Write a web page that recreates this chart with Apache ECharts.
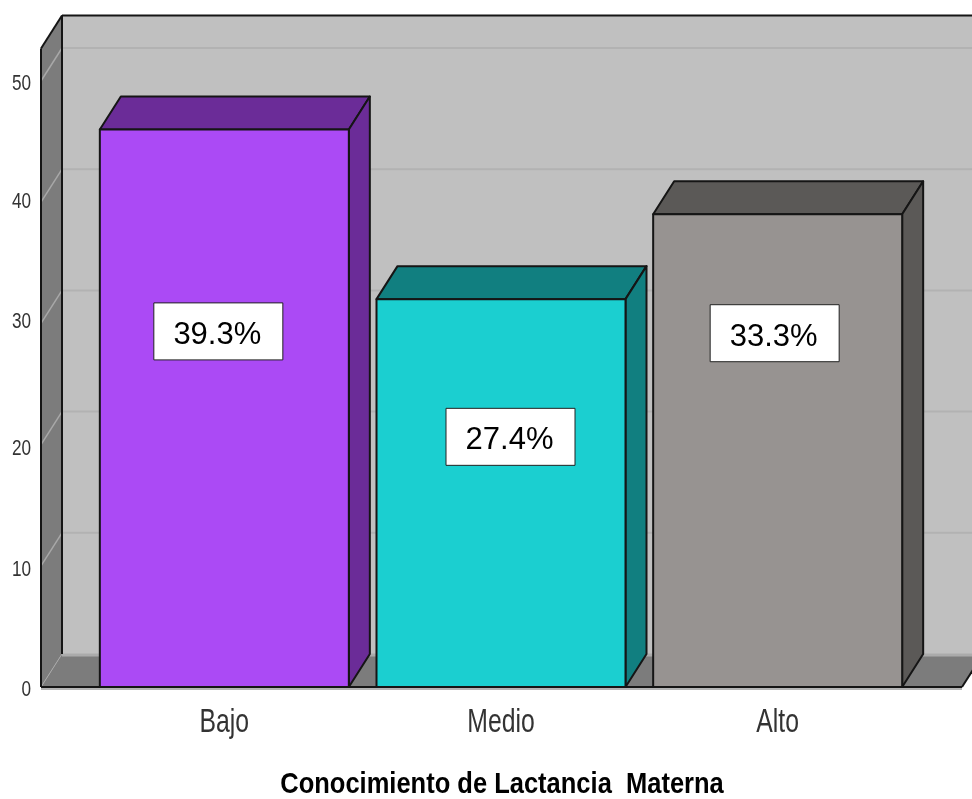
<!DOCTYPE html>
<html>
<head>
<meta charset="utf-8">
<style>html,body{margin:0;padding:0;background:#fff}#c{width:972px;height:799px}</style>
<script src="https://cdn.jsdelivr.net/npm/echarts@6/dist/echarts.min.js"></script>
</head>
<body>
<div id="c"></div>
<script>
const categories = ['Bajo', 'Medio', 'Alto'];
const counts = [46, 32, 39];
const percentLabels = ['39.3%', '27.4%', '33.3%'];
const faceColors = ['#AB4AF5', '#1BCFD0', '#979391'];
const sideColors = ['#6B2C98', '#117F80', '#5B5957'];
const yTicks = [0, 10, 20, 30, 40, 50];
const axisTitle = 'Conocimiento de Lactancia  Materna';

// layout constants (pixels / axis units), separate from the data
const DX = 21, DY = -33, WALL_TOP = 52.68, WALL_LEFT = 45, WALL_RIGHT = 46, BAR_RATIO = 0.9;
const boxAnchors = [[-6, 29.34], [9.5, 20.64], [-3, 29.19]];
const tickNudge = [3, 4, 4, -1, 0, 3];
const BOX_W = 129, BOX_H = 57;
const INK = '#151515', FONT = '"Liberation Sans",Arial,sans-serif';

const poly = (points, fill, stroke, lw) => ({
  type: 'polygon', shape: { points },
  style: { fill: fill, stroke: stroke || null, lineWidth: lw || 0, lineJoin: 'round' }
});
const line = (x1, y1, x2, y2, stroke, lw) => ({
  type: 'line', shape: { x1, y1, x2, y2 }, style: { stroke, lineWidth: lw || 2 }
});
// horizontally squeezed real text
const squeezed = (text, x, y, size, sx, fill, align, weight) => ({
  type: 'text', x: x, y: y, scaleX: sx, scaleY: 1,
  style: { text, x: 0, y: 0, align: align || 'center', verticalAlign: 'middle', fill,
    fontFamily: FONT, fontSize: size, fontWeight: weight || 'normal' }
});

function renderScene(params, api) {
  const cs = params.coordSys;
  const L = cs.x - WALL_LEFT, R = cs.x + cs.width + WALL_RIGHT;
  const y0 = api.coord([0, 0])[1], yT = api.coord([0, WALL_TOP])[1];
  const children = [
    poly([[L + DX, yT + DY], [R + DX, yT + DY], [R + DX, y0 + DY], [L + DX, y0 + DY]], '#C0C0C0'),
    poly([[L, yT], [L + DX, yT + DY], [L + DX, y0 + DY], [L, y0]], '#7C7C7C'),
    poly([[L, y0], [R, y0], [R + DX, y0 + DY], [L + DX, y0 + DY]], '#7C7C7C')
  ];
  yTicks.forEach((t, k) => {
    const y = api.coord([0, t])[1];
    if (t === 0) {
      children.push(line(L + DX, y + DY + 1, R + DX, y + DY + 1, '#ABABAB', 3));
      children.push(line(L, y, L + DX, y + DY, '#A8A8A8', 1));
    } else {
      children.push(line(L + DX, y + DY, R + DX, y + DY, '#B2B2B2', 2));
      children.push(line(L, y, L + DX, y + DY, '#A8A8A8', 1.5));
    }
    children.push(squeezed(String(t), 31, y + tickNudge[k], 22, 0.78, '#333', 'right'));
  });
  children.push(line(L, y0 + 2, R, y0 + 2, '#B5B5B5', 2));
  children.push(line(L, yT, L, y0, INK, 2));
  children.push(line(L, yT, L + DX, yT + DY, INK, 2));
  children.push(line(L + DX, yT + DY, L + DX, y0 + DY, INK, 2));
  children.push(line(L + DX, yT + DY, R + DX, yT + DY, INK, 2));
  children.push(line(L, y0, R, y0, INK, 2));
  children.push(line(R, y0, R + DX, y0 + DY, INK, 2));
  children.push(squeezed(axisTitle, cs.x + cs.width / 2 + 1, y0 + 98, 30, 0.85, '#000', 'center', 'bold'));
  return { type: 'group', children };
}

function renderBar(params, api) {
  const i = api.value(0), v = api.value(1);
  const top = api.coord([i, v]), base = api.coord([i, 0]);
  const w = api.size([1, 0])[0] * BAR_RATIO;
  const x0 = top[0] - w / 2, x1 = top[0] + w / 2, yt = top[1], yb = base[1];
  return {
    type: 'group',
    children: [
      poly([[x0, yt], [x0 + DX, yt + DY], [x1 + DX, yt + DY], [x1, yt]], sideColors[i], INK, 2),
      poly([[x1, yt], [x1 + DX, yt + DY], [x1 + DX, yb + DY], [x1, yb]], sideColors[i], INK, 2),
      poly([[x0, yt], [x1, yt], [x1, yb], [x0, yb]], faceColors[i], INK, 2),
      squeezed(categories[i], top[0], yb + 36, 33, 0.75, '#333')
    ]
  };
}

function renderBox(params, api) {
  const i = api.value(0);
  const p = api.coord([i, boxAnchors[i][1]]);
  const cx = p[0] + boxAnchors[i][0], cy = p[1];
  return {
    type: 'group',
    children: [
      { type: 'rect', shape: { x: cx - BOX_W / 2, y: cy - BOX_H / 2, width: BOX_W, height: BOX_H },
        style: { fill: '#fff', stroke: '#222', lineWidth: 1 } },
      { type: 'text', style: { text: percentLabels[i], x: cx - 1, y: cy + 4, align: 'center', verticalAlign: 'middle',
        fill: '#000', fontFamily: FONT, fontSize: 31 } }
    ]
  };
}

const chart = echarts.init(document.getElementById('c'), null, { renderer: 'canvas' });
chart.setOption({
  animation: false,
  backgroundColor: '#fff',
  grid: { left: 86, top: 81, width: 830, height: 606, outerBoundsMode: 'none' },
  xAxis: {
    type: 'category', data: categories, boundaryGap: true,
    axisLine: { show: false }, axisTick: { show: false }, splitLine: { show: false },
    axisLabel: { show: false }
  },
  yAxis: {
    type: 'value', min: 0, max: 50, interval: 10,
    axisLine: { show: false }, axisTick: { show: false }, splitLine: { show: false },
    axisLabel: { show: false }
  },
  series: [
    { type: 'custom', name: 'scene', clip: false, z: 1, silent: true, renderItem: renderScene,
      data: [[0, 0]], encode: { x: 0, y: 1 } },
    { type: 'custom', name: 'Recuento', clip: false, z: 2, renderItem: renderBar,
      data: counts.map((v, i) => [i, v]), encode: { x: 0, y: 1 } },
    { type: 'custom', name: 'Porcentaje', clip: false, z: 3, renderItem: renderBox,
      data: counts.map((v, i) => [i, v]), encode: { x: 0, y: 1 } }
  ]
});
</script>
</body>
</html>
